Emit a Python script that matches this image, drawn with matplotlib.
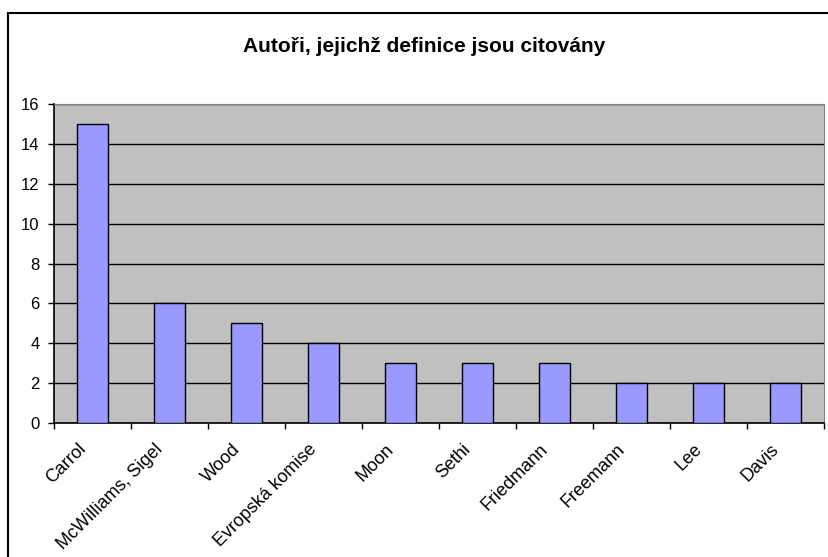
import matplotlib.pyplot as plt
from matplotlib.patches import Rectangle
from matplotlib.transforms import ScaledTranslation
import numpy as np

# authors and how many times their definition is cited
authors = ['Carrol', 'McWilliams, Sigel', 'Wood', 'Evropská komise', 'Moon',
           'Sethi', 'Friedmann', 'Freemann', 'Lee', 'Davis']
counts = [15, 6, 5, 4, 3, 3, 3, 2, 2, 2]

plt.rcParams['font.family'] = ['Liberation Sans', 'DejaVu Sans']

fig = plt.figure(figsize=(8.29, 5.57), dpi=100)
W, H = 829, 557
ax = fig.add_axes([54 / W, 1 - 423 / H, (824 - 54) / W, (423 - 104) / H])

x = np.arange(len(authors))
ax.set_facecolor('#c0c0c0')
ax.bar(x, counts, width=0.39, color='#9999ff', edgecolor='black', linewidth=1, zorder=3)

ax.set_xlim(-0.5, len(authors) - 0.5)
ax.set_ylim(0, 16)
ax.set_yticks(range(0, 17, 2))
ax.grid(axis='y', color='black', linewidth=1, zorder=1)
ax.set_axisbelow(True)

ax.set_xticks(x)
ax.set_xticklabels(authors, rotation=45, ha='right', va='center',
                   rotation_mode='anchor', fontsize=13)
ax.set_xticks(np.arange(-0.5, len(authors), 1), minor=True)
ax.tick_params(axis='x', which='major', length=0, pad=17)
ax.tick_params(axis='x', which='minor', length=4, width=1, direction='out')
ax.tick_params(axis='y', length=4.5, width=1, direction='out', labelsize=12, pad=6)

# nudge the slanted labels a little to the left
shift = ScaledTranslation(-9 / 100, 0, fig.dpi_scale_trans)
for lbl in ax.get_xticklabels():
    lbl.set_transform(lbl.get_transform() + shift)

for side in ['top', 'right']:
    ax.spines[side].set_color('#808080')
for side in ['left', 'bottom']:
    ax.spines[side].set_color('black')
    ax.spines[side].set_linewidth(1.2)

fig.text(424 / W, 1 - 46 / H, 'Autoři, jejichž definice jsou citovány',
         ha='center', va='center', fontsize=15, fontweight='bold')

# chart frame, running off the right and bottom edges
frame = Rectangle((8 / W, -0.1), 1.0, 1 - 13 / H + 0.1, transform=fig.transFigure,
                  fill=False, edgecolor='black', linewidth=1.5, clip_on=False)
fig.patches.append(frame)

fig.savefig('out.png', dpi=100)
